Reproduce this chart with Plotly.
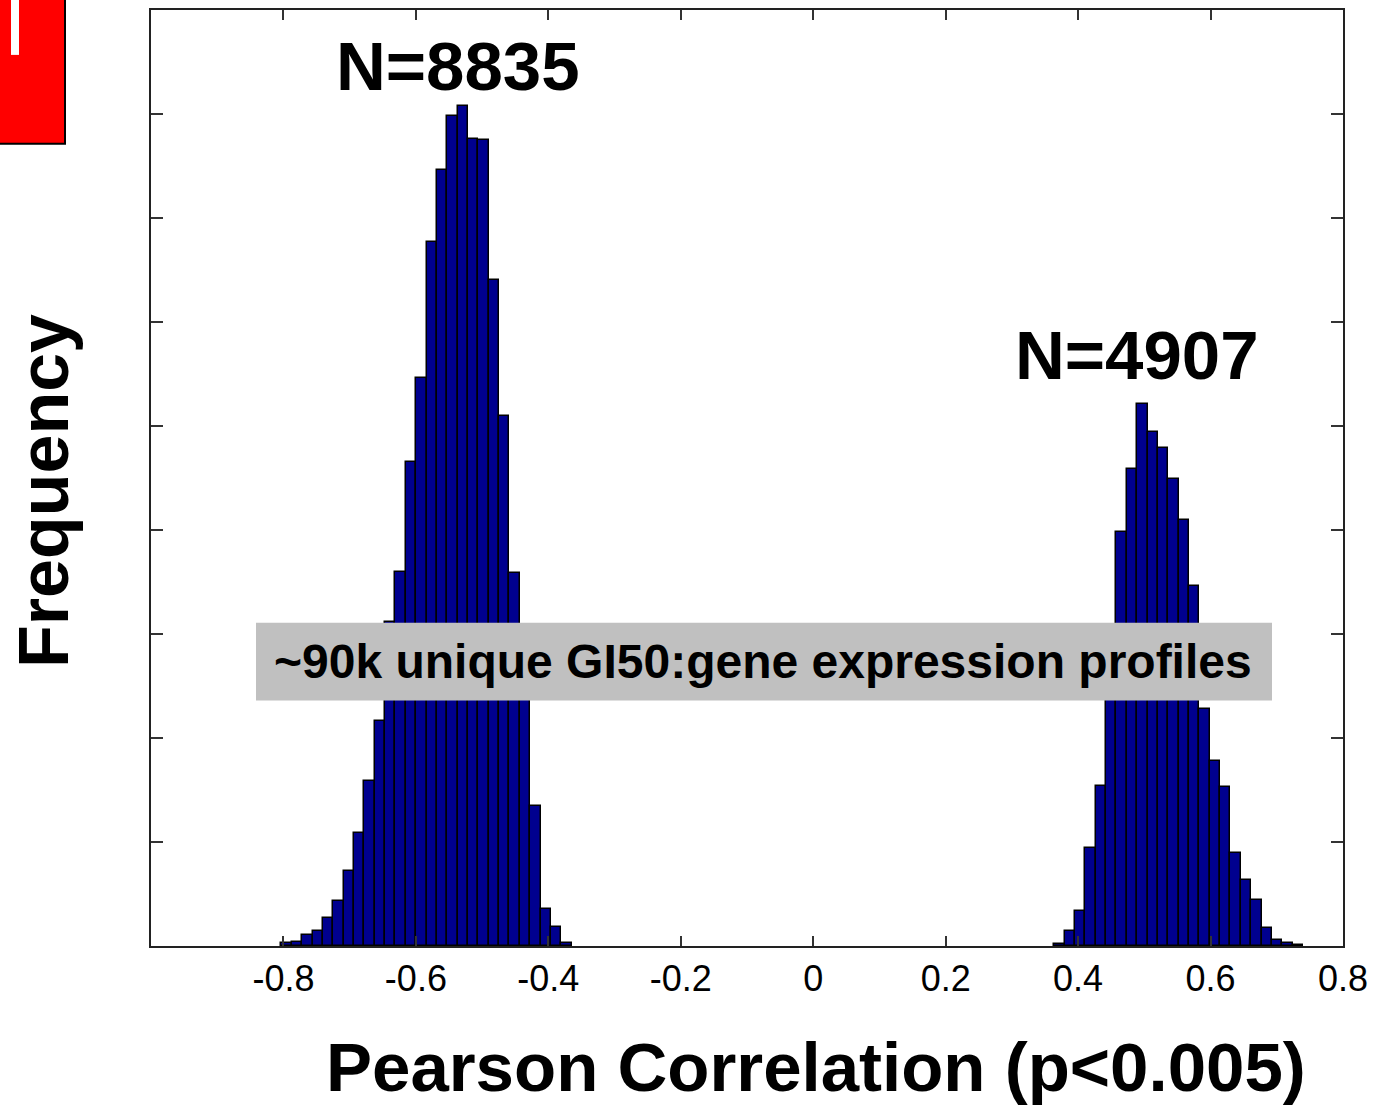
import numpy as np
import plotly.graph_objects as go

# ---- data ----
bin_width = 0.01565
left_start = -0.8030   # left edge of first bin, negative-correlation cluster
left_counts = [3, 4, 11, 14, 27, 43, 72, 109, 159, 216, 312, 360, 465, 546,
               677, 746, 798, 808, 776, 775, 640, 510, 359, 254, 135, 36, 18, 3]
right_start = 0.3640   # left edge of first bin, positive-correlation cluster
right_counts = [2, 14, 34, 94, 154, 279, 398, 459, 521, 494, 479, 449, 410,
                346, 228, 178, 153, 89, 63, 44, 17, 6, 3, 1]

x_tick_vals = [-0.8, -0.6, -0.4, -0.2, 0, 0.2, 0.4, 0.6, 0.8]
x_tick_text = ["-0.8", "-0.6", "-0.4", "-0.2", "0", "0.2", "0.4", "0.6", "0.8"]
y_tick_vals = [0, 100, 200, 300, 400, 500, 600, 700, 800, 900]

label_left = "N=8835"
label_right = "N=4907"
banner_text = "~90k unique GI50:gene expression profiles"
x_title = "Pearson Correlation (p<0.005)"
y_title = "Frequency"

# ---- build ----
left_centers = left_start + bin_width * (np.arange(len(left_counts)) + 0.5)
right_centers = right_start + bin_width * (np.arange(len(right_counts)) + 0.5)

bar_style = dict(color="#00008F", line=dict(color="#000000", width=1.5))
FONT = "Liberation Sans, Arial, Helvetica, sans-serif"

fig = go.Figure()
fig.add_trace(go.Bar(x=left_centers, y=left_counts, width=bin_width,
                     marker=bar_style, showlegend=False))
fig.add_trace(go.Bar(x=right_centers, y=right_counts, width=bin_width,
                     marker=bar_style, showlegend=False))

W, H = 1381, 1107
L, R, T, B = 151, 38, 8, 161
pw, ph = W - L - R, H - T - B


def px(xp):
    return (xp - L) / pw


def py(yp):
    return (H - B - yp) / ph


fig.update_layout(
    width=W, height=H,
    margin=dict(l=L, r=R, t=T, b=B, pad=0),
    paper_bgcolor="white", plot_bgcolor="white",
    bargap=0, barmode="overlay",
    font=dict(family=FONT, color="black"),
    xaxis=dict(range=[-1.0, 0.8], tickmode="array", tickvals=x_tick_vals,
               ticktext=x_tick_text, ticks="inside", ticklen=10, tickwidth=1.5,
               tickcolor="#333", showline=True, linecolor="#222", linewidth=2,
               mirror="ticks", showgrid=False, zeroline=False,
               tickfont=dict(size=36, family=FONT, color="black")),
    yaxis=dict(range=[0, 900], tickmode="array", tickvals=y_tick_vals,
               ticks="inside", ticklen=12, tickwidth=1.5, tickcolor="#333",
               showticklabels=False, showline=True, linecolor="#222",
               linewidth=2, mirror="ticks", showgrid=False, zeroline=False),
)

shapes = [
    # grey banner
    dict(type="rect", xref="paper", yref="paper", layer="above",
         x0=px(256), x1=px(1272), y0=py(700), y1=py(622),
         fillcolor="#C0C0C0", line=dict(width=0)),
    # red slide decoration, top-left
    dict(type="rect", xref="paper", yref="paper", layer="above",
         x0=px(-4), x1=px(65), y0=py(142), y1=py(-4),
         fillcolor="#FF0000", line=dict(color="black", width=2)),
    dict(type="rect", xref="paper", yref="paper", layer="above",
         x0=px(11), x1=px(19), y0=py(53), y1=py(-4),
         fillcolor="white", line=dict(width=0)),
]
fig.update_layout(shapes=shapes)

annotations = [
    dict(text=f"<b>{label_left}</b>", xref="paper", yref="paper",
         x=px(458), y=py(65), xanchor="center", yanchor="middle",
         showarrow=False, font=dict(size=69, family=FONT, color="black")),
    dict(text=f"<b>{label_right}</b>", xref="paper", yref="paper",
         x=px(1137), y=py(354), xanchor="center", yanchor="middle",
         showarrow=False, font=dict(size=69, family=FONT, color="black")),
    dict(text=f"<b>{banner_text}</b>", xref="paper", yref="paper",
         x=px(763), y=py(661), xanchor="center", yanchor="middle",
         showarrow=False, font=dict(size=48, family=FONT, color="black")),
    dict(text=f"<b>{x_title}</b>", xref="paper", yref="paper",
         x=px(816), y=py(1068), xanchor="center", yanchor="middle",
         showarrow=False, font=dict(size=69, family=FONT, color="black")),
    dict(text=f"<b>{y_title}</b>", xref="paper", yref="paper",
         x=px(44), y=py(490), xanchor="center", yanchor="middle",
         textangle=-90, showarrow=False,
         font=dict(size=70, family=FONT, color="black")),
]
fig.update_layout(annotations=annotations)

fig.write_html(
    "out.html",
    config={"displayModeBar": False},
    post_script="document.body.style.margin='0px';document.body.style.overflow='hidden';",
)
